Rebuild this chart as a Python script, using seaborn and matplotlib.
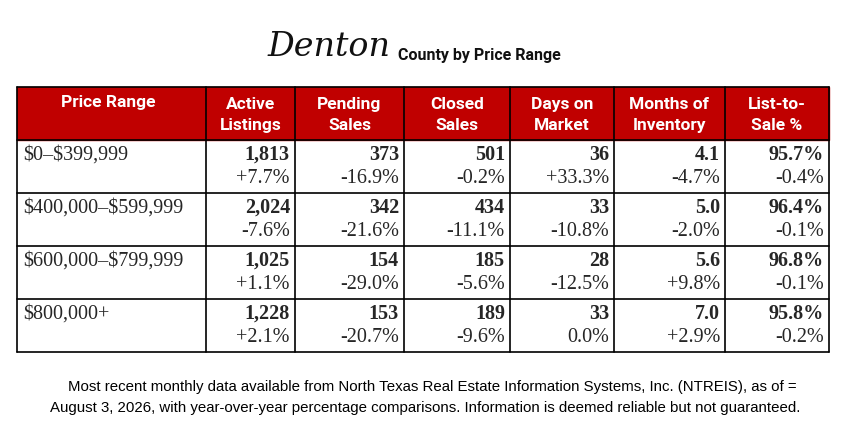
import matplotlib
matplotlib.use("Agg")
import matplotlib.pyplot as plt
import seaborn as sns
from matplotlib.patches import Rectangle

sns.set_theme(style="white")
plt.rcParams["text.parse_math"] = False

# data
columns = ["Price Range", "Active\nListings", "Pending\nSales", "Closed\nSales",
           "Days on\nMarket", "Months of\nInventory", "List-to-\nSale %"]
price_ranges = ["$0\u2013$399,999", "$400,000\u2013$599,999", "$600,000\u2013$799,999", "$800,000+"]
active = ["1,813", "2,024", "1,025", "1,228"]
active_chg = ["+7.7%", "-7.6%", "+1.1%", "+2.1%"]
pending = ["373", "342", "154", "153"]
pending_chg = ["-16.9%", "-21.6%", "-29.0%", "-20.7%"]
closed = ["501", "434", "185", "189"]
closed_chg = ["-0.2%", "-11.1%", "-5.6%", "-9.6%"]
dom = ["36", "33", "28", "33"]
dom_chg = ["+33.3%", "-10.8%", "-12.5%", "0.0%"]
moi = ["4.1", "5.0", "5.6", "7.0"]
moi_chg = ["-4.7%", "-2.0%", "+9.8%", "+2.9%"]
lts = ["95.7%", "96.4%", "96.8%", "95.8%"]
lts_chg = ["-0.4%", "-0.1%", "-0.1%", "-0.2%"]

values = [active, pending, closed, dom, moi, lts]
changes = [active_chg, pending_chg, closed_chg, dom_chg, moi_chg, lts_chg]

col_edges = [17, 206, 295, 404, 510, 614, 725, 829]
row_edges = [88, 141, 194, 247, 300, 353]
red = "#C00000"
body_size = 14.5

fig = plt.figure(figsize=(8.49, 4.39), dpi=100)
ax = fig.add_axes([0, 0, 1, 1])
ax.set_xlim(0, 849)
ax.set_ylim(439, 0)
ax.axis("off")

# title
ax.text(268, 56, "Denton", fontsize=24, family="DejaVu Serif", style="italic",
        fontweight="light", va="baseline", ha="left", color="#111111")
ax.text(398, 60, "County by Price Range", fontsize=11.5, family="Roboto",
        fontweight="bold", va="baseline", ha="left", color="#111111")

# header
ax.add_patch(Rectangle((col_edges[0], row_edges[0]), col_edges[-1] - col_edges[0],
                       row_edges[1] - row_edges[0], color=red, zorder=1))
for i, name in enumerate(columns):
    cx = (col_edges[i] + col_edges[i + 1]) / 2
    if i == 0:
        ax.text(cx - 3, 103, name, color="white", fontsize=12.5, family="Roboto",
                fontweight="bold", ha="center", va="center")
    else:
        ax.text(cx, 115, name, color="white", fontsize=12.5, family="Roboto",
                fontweight="bold", ha="center", va="center", linespacing=1.45)

# body
for r, pr in enumerate(price_ranges):
    y0 = row_edges[r + 1]
    ax.text(col_edges[0] + 6, y0 + 14, pr, fontsize=body_size, family="Liberation Serif",
            ha="left", va="center")
    for c in range(6):
        xr = col_edges[c + 2] - 5
        ax.text(xr, y0 + 14, values[c][r], fontsize=body_size, family="Liberation Serif",
                fontweight="bold", ha="right", va="center")
        ax.text(xr, y0 + 38, changes[c][r], fontsize=body_size, family="Liberation Serif",
                ha="right", va="center")

# grid lines
for x in col_edges:
    ax.plot([x, x], [row_edges[0], row_edges[-1]], color="black", lw=1.2, zorder=3)
for y in row_edges:
    ax.plot([col_edges[0], col_edges[-1]], [y, y], color="black", lw=1.2, zorder=3)

# footer
ax.text(432, 387, "Most recent monthly data available from North Texas Real Estate Information Systems, Inc. (NTREIS), as of =",
        fontsize=10.8, family="Liberation Sans", ha="center", va="center", color="black")
ax.text(425, 408, "August 3, 2026, with year-over-year percentage comparisons. Information is deemed reliable but not guaranteed.",
        fontsize=10.8, family="Liberation Sans", ha="center", va="center", color="black")

fig.savefig("out.png", dpi=100, facecolor="white")
